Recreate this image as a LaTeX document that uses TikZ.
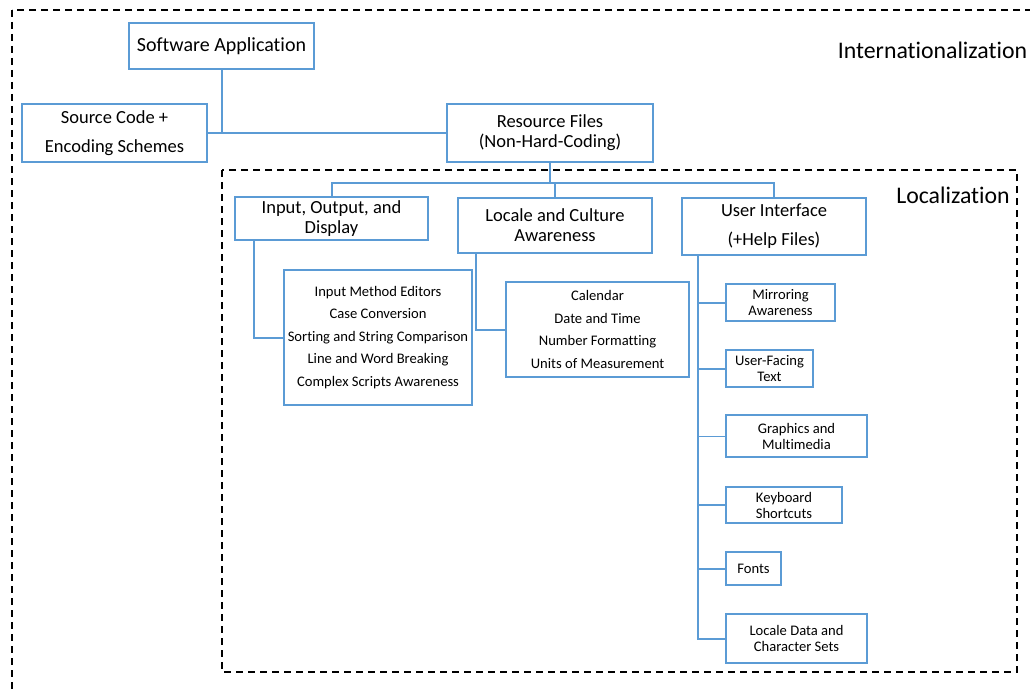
\documentclass[tikz,border=0pt]{standalone}
\usepackage{fontspec}
\setmainfont{Carlito}[Ligatures=NoCommon]
\definecolor{boxblue}{RGB}{91,155,213}
\begin{document}
\begin{tikzpicture}[x=1pt,y=-1pt,
  box/.style={draw=boxblue,line width=2pt,anchor=north west,inner sep=0pt,align=center,text=black},
  big/.style={font=\fontsize{18.5}{20}\selectfont},
  mid/.style={font=\fontsize{14.6}{22.4}\selectfont},
  small/.style={font=\fontsize{14.6}{16}\selectfont},
  conn/.style={draw=boxblue,line width=2pt},
  zone/.style={draw=black,line width=1.8pt,dash pattern=on 7pt off 5pt},
  title/.style={font=\fontsize{23.8}{26}\selectfont}]
\useasboundingbox (0,0) rectangle (1030,690);
\clip (0,0) rectangle (1030,690);
% zones
\draw[zone] (12,10) rectangle (1045,705);
\draw[zone] (222,170) rectangle (1017,672);
\node[title] (intl) at (932.5,50) {Internationalization};
\node[title] (loc) at (953,195) {Localization};
% top level
\node[box,big,minimum width=185pt,minimum height=46pt,font=\fontsize{20}{21}\selectfont] (sa) at (128,22) {Software Application};
\node[box,big,minimum width=185pt,minimum height=58pt,font=\fontsize{18.5}{29}\selectfont] (sc) at (21,103) {Source Code +\\Encoding Schemes};
\node[box,big,minimum width=206pt,minimum height=58pt] (rf) at (446,103) {Resource Files\\(Non-Hard-Coding)};
% second level
\node[box,big,minimum width=193pt,minimum height=43pt] (iod) at (234,196) {Input, Output, and\\Display};
\node[box,big,minimum width=194pt,minimum height=55pt] (lca) at (457,197) {Locale and Culture\\Awareness};
\node[box,big,minimum width=184pt,minimum height=57pt,font=\fontsize{18.5}{29}\selectfont] (ui) at (681,197) {User Interface\\(+Help Files)};
% lists
\node[box,mid,minimum width=188pt,minimum height=135pt] (inl) at (283,269) {Input Method Editors\\Case Conversion\\Sorting and String Comparison\\Line and Word Breaking\\Complex Scripts Awareness};
\node[box,mid,minimum width=183pt,minimum height=95pt] (cal) at (505,281) {Calendar\\Date and Time\\Number Formatting\\Units of Measurement};
% UI items
\node[box,small,minimum width=109pt,minimum height=37pt] (mir) at (725,283) {Mirroring\\Awareness};
\node[box,small,minimum width=87pt,minimum height=37pt] (uft) at (725,349) {User-Facing\\Text};
\node[box,small,minimum width=141pt,minimum height=42pt] (gm) at (725,414) {Graphics and\\Multimedia};
\node[box,small,minimum width=116pt,minimum height=36pt] (kb) at (725,486) {Keyboard\\Shortcuts};
\node[box,small,minimum width=55pt,minimum height=33pt] (fo) at (725,551) {Fonts};
\node[box,small,minimum width=141pt,minimum height=49pt] (ld) at (725,613) {Locale Data and\\Character Sets};
% connectors
\draw[conn] (sc.east) -- (rf.west);
\draw[conn] (sa.south) -- (sa.south |- sc.east);
\coordinate (jr) at ([yshift=-20pt]rf.south);
\draw[conn] (rf.south) -- (jr);
\draw[conn] (iod.north) |- (jr) -| (ui.north);
\draw[conn] (lca.north) -- (lca.north |- jr);
\draw[conn] ([xshift=20pt]iod.south west) |- (inl.west);
\draw[conn] ([xshift=19pt]lca.south west) |- (cal.west);
\coordinate (tr) at ([xshift=17pt]ui.south west);
\draw[conn] (tr) |- (ld.west);
\draw[conn] (tr |- mir.west) -- (mir.west);
\draw[conn] (tr |- uft.west) -- (uft.west);
\draw[conn,line width=1pt] (tr |- gm.west) -- (gm.west);
\draw[conn] (tr |- kb.west) -- (kb.west);
\draw[conn] (tr |- fo.west) -- (fo.west);
\end{tikzpicture}
\end{document}
